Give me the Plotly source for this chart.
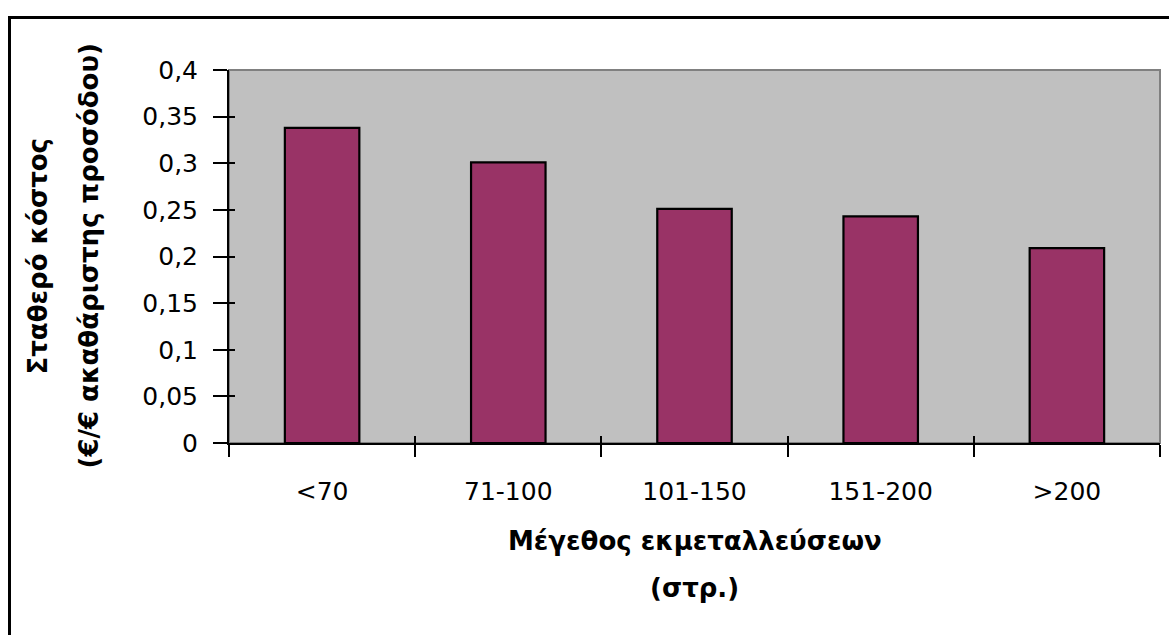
import plotly.graph_objects as go

categories = ["<70", "71-100", "101-150", "151-200", ">200"]
values = [0.338, 0.301, 0.251, 0.243, 0.209]

x_title_lines = ["Μέγεθος εκμεταλλεύσεων", "(στρ.)"]
y_title_lines = ["Σταθερό κόστος", "(€/€ ακαθάριστης προσόδου)"]

W, H = 1169, 635
L, R, T, B = 229, 9, 70, 192
pw, ph = W - L - R, H - T - B

def px_x(p):
    return (p - L) / pw

def px_y(p):
    return (H - B - p) / ph

tick_font = dict(family="DejaVu Sans", size=25, color="black")
title_font = dict(family="DejaVu Sans", size=26, color="black", weight="bold")

fig = go.Figure()
fig.add_trace(go.Bar(
    x=categories, y=values,
    marker=dict(color="#993366", line=dict(color="black", width=2.2)),
    hoverinfo="x+y",
))

fig.update_layout(
    width=W, height=H,
    margin=dict(l=L, r=R, t=T, b=B),
    paper_bgcolor="white",
    plot_bgcolor="#C0C0C0",
    separators=",.",
    bargap=0.6,
    showlegend=False,
    xaxis=dict(
        type="category", categoryorder="array", categoryarray=categories,
        range=[-0.5, len(categories) - 0.5],
        showline=True, linecolor="black", linewidth=2,
        ticks="outside", tickson="boundaries", ticklen=12, tickwidth=2, tickcolor="black",
        tickfont=tick_font, ticklabelstandoff=25,
        showgrid=False, zeroline=False,
    ),
    yaxis=dict(
        range=[0, 0.4], dtick=0.05, tick0=0,
        showline=True, linecolor="black", linewidth=2,
        ticks="outside", ticklen=14, tickwidth=2, tickcolor="black",
        tickfont=tick_font, ticklabelstandoff=10,
        showgrid=False, zeroline=False,
    ),
    xaxis2=dict(
        overlaying="x", range=[-0.5, len(categories) - 0.5],
        tickvals=[i - 0.5 for i in range(len(categories) + 1)],
        ticks="inside", ticklen=7, tickwidth=2, tickcolor="black",
        showticklabels=False, showgrid=False, zeroline=False, showline=False,
        side="bottom",
    ),
    yaxis2=dict(
        overlaying="y", range=[0, 0.4], dtick=0.05, tick0=0,
        ticks="inside", ticklen=6, tickwidth=2, tickcolor="black",
        showticklabels=False, showgrid=False, zeroline=False, showline=False,
        side="left",
    ),
)

# invisible helper trace so the overlay axes render
fig.add_trace(go.Scatter(x=[0], y=[0], xaxis="x2", yaxis="y2", mode="markers",
                         marker=dict(opacity=0), hoverinfo="skip", showlegend=False))

# plot area border (gray top/right)
fig.add_shape(type="rect", xref="paper", yref="paper", x0=0, x1=1, y0=0, y1=1,
              line=dict(color="#808080", width=2), layer="below")
# outer chart frame
fig.add_shape(type="rect", xref="paper", yref="paper",
              x0=px_x(9.5), x1=px_x(1180), y0=px_y(645), y1=px_y(17.5),
              line=dict(color="black", width=3))

# axis titles
fig.add_annotation(text=x_title_lines[0], xref="paper", yref="paper", x=0.5, y=px_y(541),
                   showarrow=False, font=title_font, xanchor="center", yanchor="middle")
fig.add_annotation(text=x_title_lines[1], xref="paper", yref="paper", x=0.5, y=px_y(588),
                   showarrow=False, font=title_font, xanchor="center", yanchor="middle")
fig.add_annotation(text=y_title_lines[0], xref="paper", yref="paper", x=px_x(37), y=0.5,
                   showarrow=False, font=title_font, textangle=-90, xanchor="center", yanchor="middle")
fig.add_annotation(text=y_title_lines[1], xref="paper", yref="paper", x=px_x(88), y=0.5,
                   showarrow=False, font=title_font, textangle=-90, xanchor="center", yanchor="middle")

fig.write_html("out.html", config={"displayModeBar": False},
               post_script="document.body.style.margin='0';")
